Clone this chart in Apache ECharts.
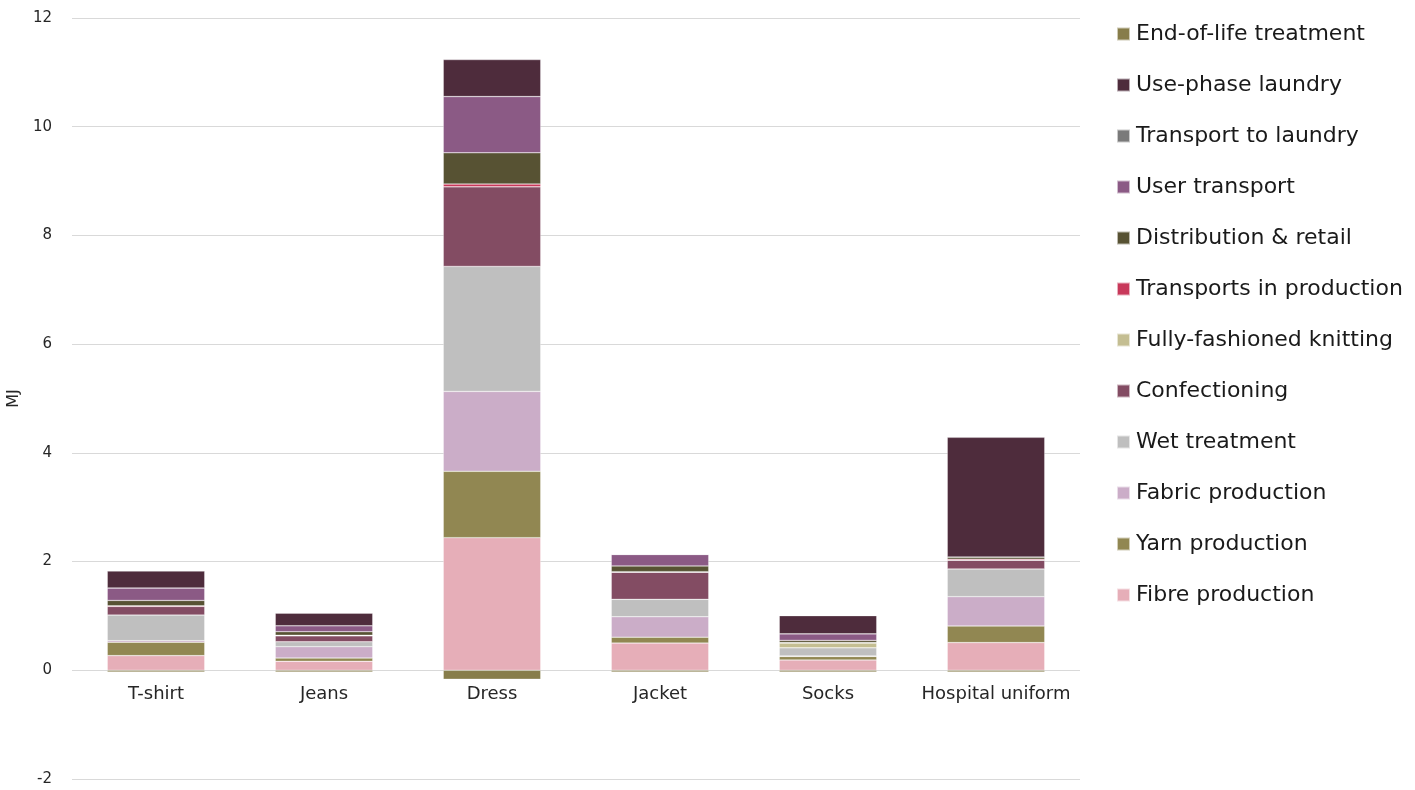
<!DOCTYPE html>
<html>
<head>
<meta charset="utf-8">
<script src="https://cdn.jsdelivr.net/npm/echarts@6/dist/echarts.min.js"></script>
<style>
html,body{margin:0;padding:0;background:#fff;}
#chart{width:1415px;height:790px;}
</style>
</head>
<body>
<div id="chart"></div>
<script>
const categories = ['T-shirt', 'Jeans', 'Dress', 'Jacket', 'Socks', 'Hospital uniform'];

const fibreProduction      = [0.27, 0.165, 2.44, 0.50, 0.19, 0.51];
const yarnProduction       = [0.245, 0.06, 1.22, 0.11, 0.065, 0.305];
const fabricProduction     = [0.03, 0.21, 1.47, 0.375, 0.01, 0.54];
const wetTreatment         = [0.47, 0.09, 2.30, 0.32, 0.15, 0.51];
const confectioning        = [0.16, 0.11, 1.465, 0.50, 0.0, 0.16];
const fullyFashioned       = [0.0, 0.0, 0.0, 0.0, 0.085, 0.0];
const transportsProduction = [0.01, 0.01, 0.05, 0.01, 0.01, 0.02];
const distributionRetail   = [0.10, 0.065, 0.575, 0.105, 0.04, 0.04];
const userTransport        = [0.23, 0.11, 1.035, 0.21, 0.12, 0.0];
const transportToLaundry   = [0.0, 0.0, 0.0, 0.0, 0.0, 0.0];
const useLaundry           = [0.31, 0.23, 0.68, 0.01, 0.335, 2.20];
const endOfLife            = [-0.03, -0.03, -0.165, -0.03, -0.03, -0.03];

const yTicks = [-2, 0, 2, 4, 6, 8, 10, 12];

const seriesDefs = [
  ['Fibre production', fibreProduction, '#E6AEB8'],
  ['Yarn production', yarnProduction, '#918752'],
  ['Fabric production', fabricProduction, '#CBADC8'],
  ['Wet treatment', wetTreatment, '#BFBFBF'],
  ['Confectioning', confectioning, '#834C63'],
  ['Fully-fashioned knitting', fullyFashioned, '#C4BE92'],
  ['Transports in production', transportsProduction, '#C8385A'],
  ['Distribution & retail', distributionRetail, '#575233'],
  ['User transport', userTransport, '#8B5A85'],
  ['Transport to laundry', transportToLaundry, '#7A7A7A'],
  ['Use-phase laundry', useLaundry, '#4E2C3C'],
  ['End-of-life treatment', endOfLife, '#877D4A']
];

const chart = echarts.init(document.getElementById('chart'));
const font = '"DejaVu Sans", "Noto Sans", sans-serif';

const gridTop = 18, gridBottom = 11, chartH = 790;
const plotH = chartH - gridTop - gridBottom;
const yMin = yTicks[0], yMax = yTicks[yTicks.length - 1];
// move the category axis up to the zero line
const zeroOffset = -plotH * (0 - yMin) / (yMax - yMin);

chart.setOption({
  animation: false,
  textStyle: { fontFamily: font },
  grid: { left: 72, right: 335, top: gridTop, bottom: gridBottom, containLabel: false, outerBoundsMode: 'none' },
  legend: {
    orient: 'vertical',
    left: 1111,
    top: 18,
    itemWidth: 13,
    itemHeight: 13,
    itemGap: 29,
    icon: 'rect',
    data: seriesDefs.map(s => s[0]).reverse(),
    textStyle: { fontSize: 22, color: '#1a1a1a', fontFamily: font, lineHeight: 22, padding: [0, 0, 0, 1] }
  },
  xAxis: {
    type: 'category',
    data: categories,
    position: 'bottom',
    offset: zeroOffset,
    axisLine: { show: false, onZero: false },
    axisTick: { show: false },
    axisLabel: { color: '#262626', fontSize: 18, fontFamily: font, margin: 15, interval: 0 }
  },
  yAxis: {
    type: 'value',
    min: yMin,
    max: yMax,
    interval: 2,
    name: 'MJ',
    nameLocation: 'middle',
    nameGap: 44,
    nameRotate: 90,
    nameTextStyle: { color: '#262626', fontSize: 16, fontFamily: font },
    axisLabel: { color: '#262626', fontSize: 15, fontFamily: font, margin: 20 },
    axisLine: { show: false },
    axisTick: { show: false },
    splitLine: { lineStyle: { color: '#d9d9d9', width: 1 } }
  },
  series: seriesDefs.map(([name, data, color]) => ({
    name: name,
    type: 'bar',
    stack: 'total',
    data: data,
    barWidth: '58%',
    itemStyle: { color: color, borderColor: 'rgba(255,255,255,0.6)', borderWidth: 0.5 }
  }))
});
</script>
</body>
</html>
